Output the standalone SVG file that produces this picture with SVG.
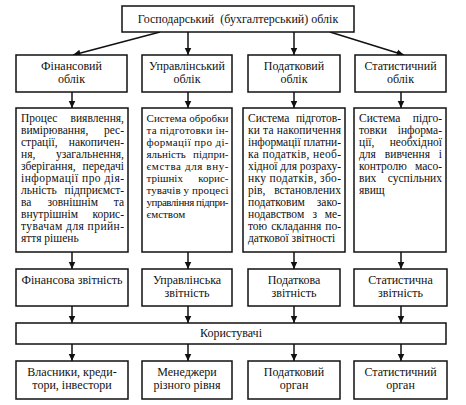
<svg xmlns="http://www.w3.org/2000/svg" width="466" height="405" viewBox="0 0 466 405">
<style>
.box{fill:#fff;stroke:#111;stroke-width:1.5}
.t{font-family:"Liberation Serif","Times New Roman","DejaVu Serif",serif;font-size:12px;fill:#111}
.c{text-anchor:middle}
.s{font-size:11.5px}
.n{font-size:11px}
.e{text-anchor:end}
.conn line{stroke:#111;stroke-width:1.5;marker-end:url(#ah)}
</style>
<defs>
<marker id="ah" markerWidth="8" markerHeight="8" refX="7.5" refY="4" orient="auto" markerUnits="userSpaceOnUse">
<path d="M0,0.5 L7.5,4 L0,7.5 z" fill="#111"/>
</marker>
</defs>
<rect width="466" height="405" fill="#fff"/>

<g id="connectors" class="conn">
<line x1="160" y1="32" x2="73" y2="55"/>
<line x1="188" y1="32" x2="188" y2="55"/>
<line x1="294" y1="32" x2="294" y2="55"/>
<line x1="330" y1="32" x2="404" y2="55"/>

<line x1="72" y1="92" x2="72" y2="108"/>
<line x1="188" y1="92" x2="188" y2="108"/>
<line x1="294" y1="92" x2="294" y2="108"/>
<line x1="401" y1="92" x2="401" y2="108"/>

<line x1="72" y1="252" x2="72" y2="269"/>
<line x1="188" y1="252" x2="188" y2="269"/>
<line x1="294" y1="252" x2="294" y2="269"/>
<line x1="401" y1="252" x2="401" y2="269"/>

<line x1="72" y1="306" x2="72" y2="323"/>
<line x1="188" y1="306" x2="188" y2="323"/>
<line x1="294" y1="306" x2="294" y2="323"/>
<line x1="401" y1="306" x2="401" y2="323"/>

<line x1="72" y1="344" x2="72" y2="361"/>
<line x1="188" y1="344" x2="188" y2="361"/>
<line x1="294" y1="344" x2="294" y2="361"/>
<line x1="401" y1="344" x2="401" y2="361"/>
</g>

<g id="root">
<rect class="box" x="122" y="6" width="232" height="26"/>
<text class="t c" x="238" y="23">Господарський&#160; (бухгалтерський) облік</text>
</g>

<g id="fin">
<rect class="box" x="16" y="55" width="111" height="37"/>
<text class="t c"><tspan x="71.5" y="70">Фінансовий</tspan><tspan x="71.5" dy="13">облік</tspan></text>
</g>
<g id="upr">
<rect class="box" x="142" y="55" width="90" height="37"/>
<text class="t c"><tspan x="187" y="70">Управлінський</tspan><tspan x="187" dy="13">облік</tspan></text>
</g>
<g id="pod">
<rect class="box" x="248" y="55" width="92" height="37"/>
<text class="t c"><tspan x="294" y="70">Податковий</tspan><tspan x="294" dy="13">облік</tspan></text>
</g>
<g id="stat">
<rect class="box" x="355" y="55" width="91" height="37"/>
<text class="t c"><tspan x="400.5" y="70">Статистичний</tspan><tspan x="400.5" dy="13">облік</tspan></text>
</g>

<g id="fin-desc">
<rect class="box" x="16" y="108" width="112" height="144"/>
<text class="t s" y="122"><tspan x="21">Процес</tspan><tspan x="124" class="e">виявлення,</tspan></text>
<text class="t s" y="134"><tspan x="21">вимірювання,</tspan><tspan x="124" class="e">рес-</tspan></text>
<text class="t s" y="146"><tspan x="21">страції,</tspan><tspan x="124" class="e">накопичен-</tspan></text>
<text class="t s" y="158"><tspan x="21">ня,</tspan><tspan x="124" class="e">узагальнення,</tspan></text>
<text class="t s" y="170"><tspan x="21">зберігання,</tspan><tspan x="124" class="e">передачі</tspan></text>
<text class="t s" x="21" y="182" textLength="103" lengthAdjust="spacing">інформації про дія-</text>
<text class="t s" y="194"><tspan x="21">льність</tspan><tspan x="124" class="e">підприємст-</tspan></text>
<text class="t s" y="206"><tspan x="21">ва</tspan><tspan x="72.7" class="c">зовнішнім</tspan><tspan x="124" class="e">та</tspan></text>
<text class="t s" y="218"><tspan x="21">внутрішнім</tspan><tspan x="124" class="e">корис-</tspan></text>
<text class="t s" x="21" y="230" textLength="103" lengthAdjust="spacing">тувачам для прийн-</text>
<text class="t s" x="21" y="242">яття рішень</text>
</g>

<g id="upr-desc">
<rect class="box" x="142" y="108" width="90" height="144"/>
<text class="t n" x="146.5" y="122" textLength="82" lengthAdjust="spacing">Система обробки</text>
<text class="t n" x="146.5" y="134" textLength="82" lengthAdjust="spacing">та підготовки ін-</text>
<text class="t n" x="146.5" y="146" textLength="82" lengthAdjust="spacing">формації про ді-</text>
<text class="t n" y="158"><tspan x="146.5">яльність</tspan><tspan x="228.5" class="e">підпри-</tspan></text>
<text class="t n" x="146.5" y="170" textLength="82" lengthAdjust="spacing">ємства для вну-</text>
<text class="t n" y="182"><tspan x="146.5">трішніх</tspan><tspan x="228.5" class="e">корис-</tspan></text>
<text class="t n" x="146.5" y="194" textLength="82" lengthAdjust="spacing">тувачів у процесі</text>
<text class="t n" x="146.5" y="206" textLength="82" lengthAdjust="spacing">управління підпри-</text>
<text class="t n" x="146.5" y="218">ємством</text>
</g>

<g id="pod-desc">
<rect class="box" x="243" y="108" width="102" height="144"/>
<text class="t s" y="122"><tspan x="248">Система</tspan><tspan x="341" class="e">підготов-</tspan></text>
<text class="t s" x="248" y="134" textLength="93" lengthAdjust="spacing">ки та накопичення</text>
<text class="t s" x="248" y="146" textLength="93" lengthAdjust="spacing">інформації платни-</text>
<text class="t s" x="248" y="158" textLength="93" lengthAdjust="spacing">ка податків, необ-</text>
<text class="t s" x="248" y="170" textLength="93" lengthAdjust="spacing">хідної для розраху-</text>
<text class="t s" x="248" y="182" textLength="93" lengthAdjust="spacing">нку податків, збо-</text>
<text class="t s" y="194"><tspan x="248">рів,</tspan><tspan x="341" class="e">встановлених</tspan></text>
<text class="t s" y="206"><tspan x="248">податковим</tspan><tspan x="341" class="e">зако-</tspan></text>
<text class="t s" y="218"><tspan x="248">нодавством</tspan><tspan x="314.8" class="c">з</tspan><tspan x="341" class="e">ме-</tspan></text>
<text class="t s" y="230"><tspan x="248">тою</tspan><tspan x="296.3" class="c">складання</tspan><tspan x="341" class="e">по-</tspan></text>
<text class="t s" x="248" y="242">даткової звітності</text>
</g>

<g id="stat-desc">
<rect class="box" x="354" y="108" width="92" height="144"/>
<text class="t s" y="122"><tspan x="359">Система</tspan><tspan x="442" class="e">підго-</tspan></text>
<text class="t s" y="134"><tspan x="359">товки</tspan><tspan x="442" class="e">інформа-</tspan></text>
<text class="t s" y="146"><tspan x="359">ції,</tspan><tspan x="442" class="e">необхідної</tspan></text>
<text class="t s" y="158"><tspan x="359">для</tspan><tspan x="407.4" class="c">вивчення</tspan><tspan x="442" class="e">і</tspan></text>
<text class="t s" y="170"><tspan x="359">контролю</tspan><tspan x="442" class="e">масо-</tspan></text>
<text class="t s" y="182"><tspan x="359">вих</tspan><tspan x="442" class="e">суспільних</tspan></text>
<text class="t s" x="359" y="194">явищ</text>
</g>

<g id="fin-rep">
<rect class="box" x="16" y="269" width="112" height="37"/>
<text class="t c" x="72" y="284">Фінансова звітність</text>
</g>
<g id="upr-rep">
<rect class="box" x="142" y="269" width="90" height="37"/>
<text class="t c"><tspan x="187" y="284">Управлінська</tspan><tspan x="187" dy="13">звітність</tspan></text>
</g>
<g id="pod-rep">
<rect class="box" x="248" y="269" width="92" height="37"/>
<text class="t c"><tspan x="294" y="284">Податкова</tspan><tspan x="294" dy="13">звітність</tspan></text>
</g>
<g id="stat-rep">
<rect class="box" x="354" y="269" width="93" height="37"/>
<text class="t c"><tspan x="400.5" y="284">Статистична</tspan><tspan x="400.5" dy="13">звітність</tspan></text>
</g>

<g id="users">
<rect class="box" x="16" y="323" width="430" height="21"/>
<text class="t c" x="231" y="337">Користувачі</text>
</g>

<g id="owners">
<rect class="box" x="16" y="361" width="112" height="38"/>
<text class="t c"><tspan x="72" y="376">Власники, креди-</tspan><tspan x="72" dy="13">тори, інвестори</tspan></text>
</g>
<g id="managers">
<rect class="box" x="142" y="361" width="90" height="38"/>
<text class="t c"><tspan x="187" y="376">Менеджери</tspan><tspan x="187" dy="13">різного рівня</tspan></text>
</g>
<g id="tax-body">
<rect class="box" x="248" y="361" width="92" height="38"/>
<text class="t c"><tspan x="294" y="376">Податковий</tspan><tspan x="294" dy="13">орган</tspan></text>
</g>
<g id="stat-body">
<rect class="box" x="354" y="361" width="93" height="38"/>
<text class="t c"><tspan x="400.5" y="376">Статистичний</tspan><tspan x="400.5" dy="13">орган</tspan></text>
</g>
</svg>
